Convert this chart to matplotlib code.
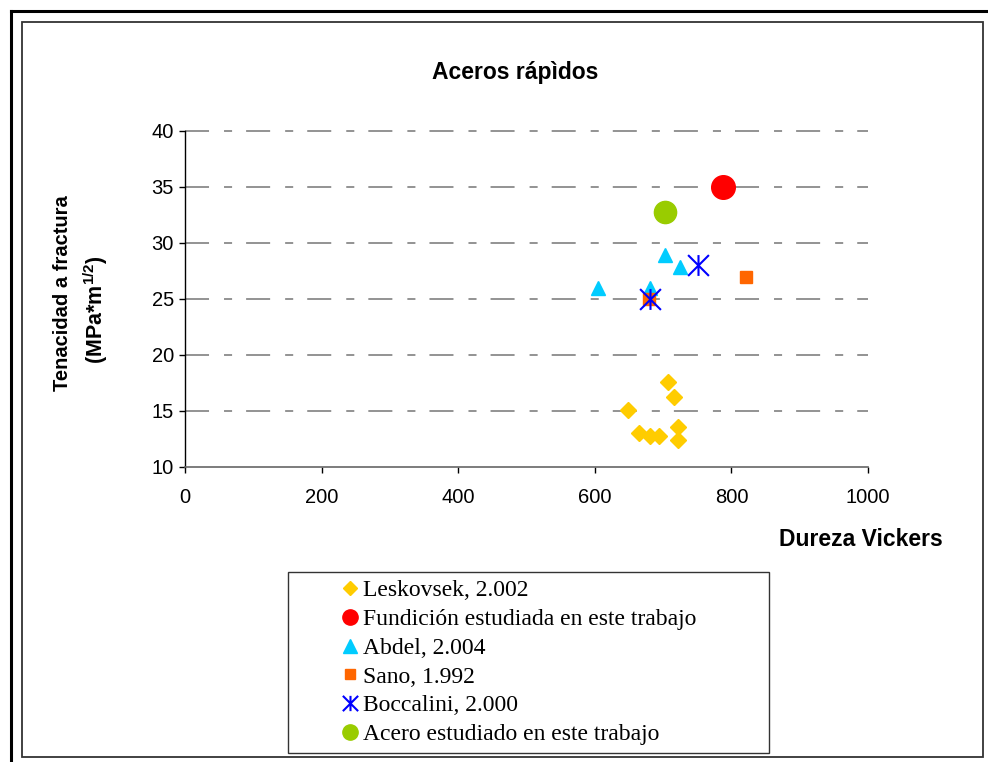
import matplotlib
matplotlib.use("Agg")
import matplotlib.pyplot as plt
from matplotlib.path import Path
from matplotlib.lines import Line2D

plt.rcParams['font.family'] = ['Liberation Sans', 'DejaVu Sans']
plt.rcParams['mathtext.fontset'] = 'custom'
plt.rcParams['mathtext.rm'] = 'Liberation Sans'
plt.rcParams['mathtext.bf'] = 'Liberation Sans:bold'
plt.rcParams['lines.scale_dashes'] = False

# data
leskovsek_x = [707, 716, 649, 664, 681, 694, 722, 722]
leskovsek_y = [17.6, 16.25, 15.1, 13.0, 12.8, 12.8, 13.6, 12.4]
fundicion_x = [788]
fundicion_y = [35.0]
abdel_x = [703, 725, 605, 681]
abdel_y = [28.9, 27.9, 26.0, 26.0]
sano_x = [821, 680]
sano_y = [27.0, 25.0]
boccalini_x = [751, 681]
boccalini_y = [28.0, 25.0]
acero_x = [703]
acero_y = [32.8]

labels = ["Leskovsek, 2.002", "Fundición estudiada en este trabajo",
          "Abdel, 2.004", "Sano, 1.992", "Boccalini, 2.000",
          "Acero estudiado en este trabajo"]

W, H = 988, 762
fig = plt.figure(figsize=(W / 100, H / 100), dpi=100)

def fx(px):
    return px / W

def fy(py):
    return 1 - py / H

# frames around the chart
fig.add_artist(Line2D([fx(11), fx(11)], [fy(11), 0], color='black', lw=2.2))
fig.add_artist(Line2D([fx(11), 1], [fy(11), fy(11)], color='black', lw=2.2))
fig.add_artist(plt.Rectangle((fx(22), fy(757)), fx(983) - fx(22), fy(22) - fy(757),
                             fill=False, ec='#333333', lw=1.3))

ax = fig.add_axes([fx(185), fy(467), fx(868) - fx(185), fy(131) - fy(467)])

# asterisk marker like the Excel one (vertical + X)
star = Path([(0, -1), (0, 1), (-1, -1), (1, 1), (-1, 1), (1, -1)],
            [Path.MOVETO, Path.LINETO] * 3)

ax.plot(leskovsek_x, leskovsek_y, 'D', color='#FFCC00', ms=8.5, ls='none', label=labels[0])
ax.plot(fundicion_x, fundicion_y, 'o', color='#FF0000', ms=17, ls='none', label=labels[1])
ax.plot(abdel_x, abdel_y, '^', color='#00CCFF', ms=10, ls='none', label=labels[2])
ax.plot(sano_x, sano_y, 's', color='#FF6600', ms=8, ls='none', label=labels[3])
ax.plot(boccalini_x, boccalini_y, marker=star, color='#0000FF', ms=15, mew=1.5,
        ls='none', label=labels[4])
ax.plot(acero_x, acero_y, 'o', color='#99CC00', ms=16, ls='none', label=labels[5])

ax.set_xlim(0, 1000)
ax.set_ylim(10, 40)
ax.set_xticks(range(0, 1001, 200))
ax.set_yticks(range(10, 41, 5))

for y in range(15, 41, 5):
    ax.axhline(y, color='#808080', lw=1.2, ls=(0, (17.3, 10.8, 5.8, 10.1)),
               dash_capstyle='butt', zorder=0, clip_on=False)

for s in ['top', 'right']:
    ax.spines[s].set_visible(False)
ax.spines['left'].set_color('black')
ax.spines['left'].set_linewidth(1.0)
ax.spines['bottom'].set_color('#666666')
ax.spines['bottom'].set_linewidth(1.2)
ax.tick_params(axis='y', direction='out', length=4, width=1, labelsize=14.5, pad=4)
ax.tick_params(axis='x', direction='out', length=4, width=1, labelsize=14.5, pad=11)

fig.text(fx(515), fy(72), "Aceros rápìdos", ha='center', va='center',
         fontsize=16.5, fontweight='bold')
fig.text(fx(943), fy(540), "Dureza Vickers", ha='right', va='center',
         fontsize=16.5, fontweight='bold')
fig.text(fx(62), fy(293), "Tenacidad a fractura", ha='center', va='center',
         rotation=90, fontsize=14.5, fontweight='bold')
fig.text(fx(96), fy(310), r"(MPa*m$^{\mathbf{1/2}}$)", ha='center', va='center',
         rotation=90, fontsize=15.5, fontweight='bold')

handles, labs = ax.get_legend_handles_labels()
leg = fig.legend(handles, labs, loc='upper left',
                 bbox_to_anchor=(fx(288), fy(753), fx(769) - fx(288), fy(572) - fy(753)),
                 mode='expand', numpoints=1, fancybox=False, shadow=False,
                 prop={'family': 'Liberation Serif', 'size': 17},
                 borderpad=0.32, labelspacing=0.31, handlelength=4.63,
                 handletextpad=-1.77, borderaxespad=0)
leg.get_frame().set_edgecolor('black')
leg.get_frame().set_linewidth(1.0)
for h, ms in zip(leg.legend_handles, [7, 11, 9.5, 6.5, 11, 11]):
    h.set_markersize(ms)

fig.savefig("out.png", dpi=100)
